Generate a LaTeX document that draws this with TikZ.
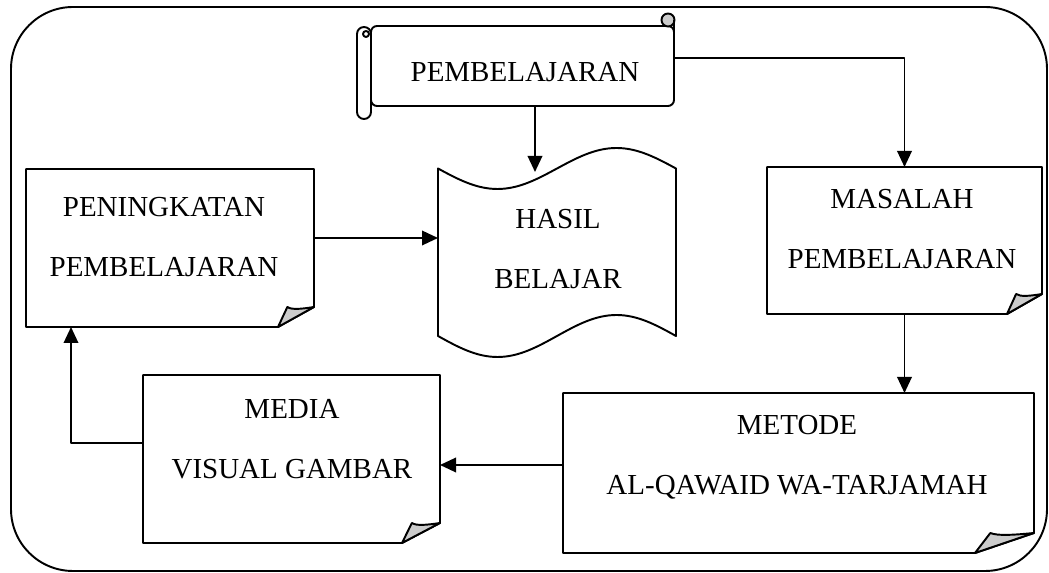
\documentclass[tikz,border=0pt]{standalone}
\usepackage{fontspec}
\setmainfont{Liberation Serif}
\usetikzlibrary{arrows.meta,calc,fit}
\newcommand{\foldedbox}[2]{%
  \draw[fill=white] (#1.north west) -- (#1.north east) -- ($(#1.south east)+(0,-20)$) -- ($(#1.south east)+(-#2,0)$) -- (#1.south west) -- cycle;
  \draw[foldfill] ($(#1.south east)+(-#2,0)$) -- ($(#1.south east)+(-0.74*#2,-20)$) .. controls ($(#1.south east)+(-0.62*#2,-17)$) and ($(#1.south east)+(-0.35*#2,-18)$) .. ($(#1.south east)+(0,-20)$) -- cycle;
}
\begin{document}
\begin{tikzpicture}[x=0.02cm,y=-0.02cm,
  line width=1.1pt, line join=round,
  arr/.style={-{Triangle[length=3.2mm,width=2.9mm]}},
  lbl/.style={font=\fontsize{16.5}{34}\selectfont, align=center, inner sep=0pt},
  boxfit/.style={inner sep=0pt, outer sep=0pt},
  foldfill/.style={fill=black!20}]
\useasboundingbox (0,0) rectangle (1049,573);
% outer frame
\draw[rounded corners=1.24cm] (11,7) rectangle (1047,571);

% scroll
\node[boxfit, fit={(371,26) (674,106)}] (scroll) {};
\draw[fill=white, rounded corners=0.12cm] (371,26) -- (674,26) -- (674,106) -- (371,106) -- cycle;
\draw[fill=black!20] (668,20) circle (0.13cm);
\draw (674,20) -- (674,40);
\draw[fill=white, rounded corners=0.14cm] (357,27) rectangle (371,119);
\draw[fill=white] (366,34) circle (0.06cm);
\node[lbl] (scrolltxt) at (525,72) {PEMBELAJARAN};

% hasil belajar (punched tape)
\node[boxfit, fit={(438,148) (676,357)}] (hasil) {};
\draw[fill=white] (438,168.5) sin (497.5,189) cos (557,168.5) sin (616.5,148) cos (676,168.5)
  -- (676,336) sin (616.5,315) cos (557,336) sin (497.5,357) cos (438,336) -- cycle;
\node[lbl] (hasiltxt) at (558,249) {HASIL\\BELAJAR};

% folded boxes
\node[boxfit, fit={(26,169) (314,327)}] (pen) {};
\foldedbox{pen}{36}
\node[lbl] (pentxt) at (164,237) {PENINGKATAN\\PEMBELAJARAN};

\node[boxfit, fit={(767,167) (1042,314)}] (mas) {};
\foldedbox{mas}{35}
\node[lbl] (mastxt) at (902,229) {MASALAH\\PEMBELAJARAN};

\node[boxfit, fit={(143,375) (440,543)}] (med) {};
\foldedbox{med}{38}
\node[lbl] (medtxt) at (292,439) {MEDIA\\VISUAL GAMBAR};

\node[boxfit, fit={(563,393) (1034,553)}] (met) {};
\foldedbox{met}{59}
\node[lbl] (mettxt) at (797,457.5) {METODE\\AL-QAWAID WA-TARJAMAH};

% connectors
\coordinate (hasilin) at (535,172);
\draw[arr] (scroll.south -| hasilin) -- (hasilin);
\draw[arr] ($(scroll.east)+(0,-8)$) -| (mas.north);
\draw[arr] (mas.south) -- (mas.south |- met.north);
\draw[arr] ($(met.west)+(0,-8)$) -- ($(med.east)+(0,6)$);
\draw[arr] ($(med.west)+(0,-16)$) -| ($(pen.south)+(-99,0)$);
\draw[arr] ($(pen.east)+(0,-10)$) -- ($(hasil.west)+(0,-14.5)$);
\end{tikzpicture}
\end{document}
